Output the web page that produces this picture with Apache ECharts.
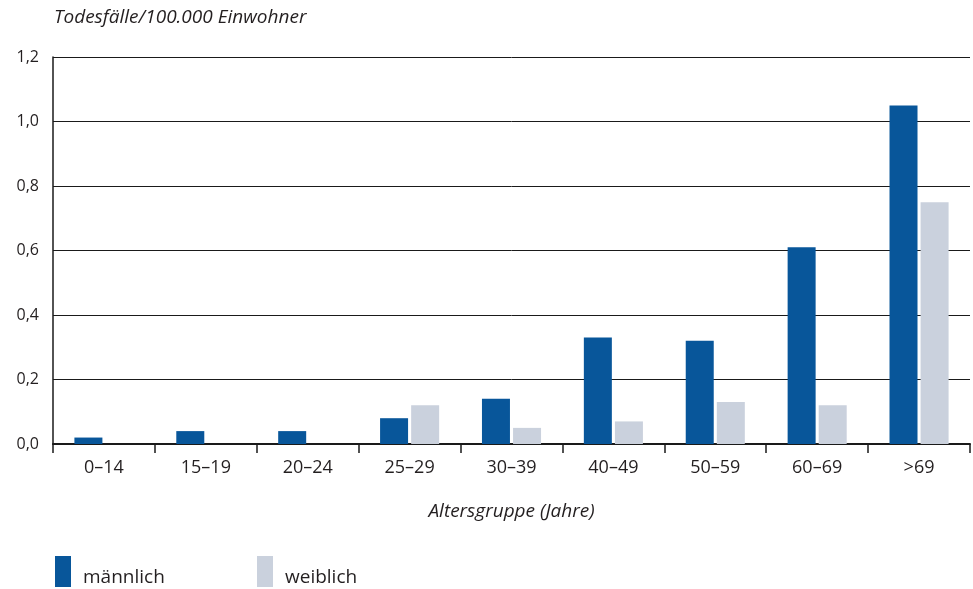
<!DOCTYPE html>
<html><head><meta charset="utf-8">
<script src="https://cdn.jsdelivr.net/npm/echarts@6/dist/echarts.min.js"></script>
<style>html,body{margin:0;padding:0;background:#fff}#c{width:973px;height:589px}</style>
</head><body><div id="c"></div>
<script>
const categories = ['0–14','15–19','20–24','25–29','30–39','40–49','50–59','60–69','>69'];
const maleValues = [0.02,0.04,0.04,0.08,0.14,0.33,0.32,0.61,1.05];
const femaleValues = [0,0,0,0.12,0.05,0.07,0.13,0.12,0.75];
const seriesNames = ['männlich','weiblich'];
const yTitle = 'Todesfälle/100.000 Einwohner';
const xTitle = 'Altersgruppe (Jahre)';

const FONT = '"Open Sans", sans-serif';
const TXT = '#231f20';
const legendText = {fontFamily:FONT,fontSize:19,color:TXT,padding:[0,0,0,7],
  rich:{t:{fontFamily:FONT,fontSize:19,color:TXT,padding:[12,0,0,0]}}};
const chart = echarts.init(document.getElementById('c'), null, {renderer:'canvas'});
chart.setOption({
  animation:false,
  color:['#08569a','#cad1dd'],
  title:{text:yTitle,left:49,top:3,textStyle:{fontFamily:FONT,fontStyle:'italic',fontWeight:'normal',fontSize:19,color:TXT}},
  legend:[
    {data:[seriesNames[0]],left:50,top:551,itemWidth:16,itemHeight:31,icon:'rect',itemGap:0,
     formatter:n=>'{t|'+n+'}',textStyle:legendText},
    {data:[seriesNames[1]],left:252,top:551,itemWidth:16,itemHeight:31,icon:'rect',itemGap:0,
     formatter:n=>'{t|'+n+'}',textStyle:legendText}
  ],
  grid:{left:53,right:3,top:57,bottom:145,containLabel:false},
  xAxis:{type:'category',data:categories,
    name:xTitle,nameLocation:'middle',nameGap:58,
    nameTextStyle:{fontFamily:FONT,fontStyle:'italic',fontSize:19,color:TXT},
    axisLine:{lineStyle:{color:'#1a1a1a',width:2}},
    axisTick:{show:true,length:9,lineStyle:{color:'#1a1a1a',width:1.5},alignWithLabel:false},
    axisLabel:{fontFamily:FONT,fontSize:18,color:TXT,margin:15}
  },
  yAxis:{type:'value',min:0,max:1.2,interval:0.2,
    axisLine:{show:true,lineStyle:{color:'#1a1a1a',width:1.5}},
    axisTick:{show:false},
    axisLabel:{fontFamily:FONT,fontSize:16,color:TXT,margin:14,
      formatter:v=>v.toFixed(1).replace('.',',')},
    splitLine:{show:true,lineStyle:{color:'#1a1a1a',width:1}}
  },
  series:[
    {name:seriesNames[0],type:'bar',data:maleValues,barWidth:28,barGap:'11%'},
    {name:seriesNames[1],type:'bar',data:femaleValues,barWidth:28,barGap:'11%'}
  ]
});
</script></body></html>
